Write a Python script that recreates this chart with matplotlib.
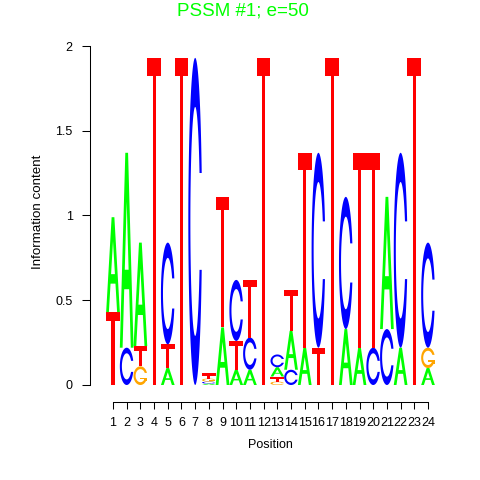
#!/usr/bin/env python3

### IMPORT
import numpy as np
import matplotlib
matplotlib.use('Agg')
import matplotlib.pyplot as plt
from matplotlib.path import Path
from matplotlib.patches import PathPatch

### DATA
positions = list(range(1, 25))
ht_A = [0.56, 1.15, 0.61, 0, 0.10, 0, 0, 0.008, 0.34, 0.09, 0.09, 0, 0.055, 0.23, 0.22, 0, 0, 0.33, 0.22, 0, 0.78, 0.22, 0, 0.10]
ht_C = [0, 0.22, 0, 0, 0.60, 0, 1.93, 0.012, 0, 0.36, 0.19, 0, 0.075, 0.09, 0, 1.15, 0, 0.78, 0, 0.22, 0.33, 1.15, 0, 0.62]
ht_G = [0, 0, 0.11, 0, 0, 0, 0, 0.018, 0, 0, 0, 0, 0.02, 0, 0, 0, 0, 0, 0, 0, 0, 0, 0, 0.12]
ht_T = [0.43, 0, 0.12, 1.93, 0.14, 1.93, 0, 0.03, 0.77, 0.17, 0.34, 1.93, 0.03, 0.24, 1.15, 0.22, 1.93, 0, 1.15, 1.15, 0, 0, 1.93, 0]
y_ticks = [0, 0.5, 1, 1.5, 2]
y_ticklabels = ['0', '0.5', '1', '1.5', '2']
title = 'PSSM #1; e=50'
xlabel = 'Position'
ylabel = 'Information content'

heights = {'A': ht_A, 'C': ht_C, 'G': ht_G, 'T': ht_T}
colours = {'A': '#00FF00', 'C': '#0000FF', 'G': '#FFA500', 'T': '#FF0000'}

plt.rcParams['font.family'] = ['Liberation Sans', 'DejaVu Sans']

### LETTER SHAPES (unit square)
def ring(cut = 0.148, ro = 0.5, ri = 0.35, n = 120):
	ao = np.arcsin(cut / ro)
	ai = np.arcsin(cut / ri)
	t1 = np.linspace(ao, 2 * np.pi - ao, n)
	t2 = np.linspace(2 * np.pi - ai, ai, n)
	x = np.concatenate([0.5 + ro * np.cos(t1), 0.5 + ri * np.cos(t2)])
	y = np.concatenate([0.5 + ro * np.sin(t1), 0.5 + ri * np.sin(t2)])
	return np.column_stack([x, y])

def shape(letter, h):
	if letter == 'A':
		outer = [(0, 0), (0.4, 1), (0.6, 1), (1, 0), (0.8, 0), (0.68, 0.3), (0.32, 0.3), (0.2, 0)]
		inner = [(0.36, 0.4), (0.64, 0.4), (0.5, 0.75)]
		return [[outer, inner]]
	if letter == 'C':
		return [[ring()]]
	if letter == 'G':
		bar = [(0.5, 0.3), (0.98, 0.3), (0.98, 0.4), (0.5, 0.4)]
		stub = [(0.78, 0.2), (0.98, 0.2), (0.98, 0.4), (0.78, 0.4)]
		return [[ring()], [bar], [stub]]
	# T: bar thickness grows slowly, capped
	bh = min(0.106, 0.018 + 0.075 * h) / h
	bh = min(bh, 0.45)
	s0, s1 = 0.39, 0.61
	t = [(0, 1), (1, 1), (1, 1 - bh), (s1, 1 - bh), (s1, 0), (s0, 0), (s0, 1 - bh), (0, 1 - bh)]
	return [[t]]

def draw_letter(ax, letter, xc, y0, h, w = 1.0):
	for part in shape(letter, h):
		verts = []
		codes = []
		for poly in part:
			p = np.array(poly, dtype = float)
			p[:, 0] = xc - w / 2 + p[:, 0] * w
			p[:, 1] = y0 + p[:, 1] * h
			verts += list(p) + [p[0]]
			codes += [Path.MOVETO] + [Path.LINETO] * (len(p) - 1) + [Path.CLOSEPOLY]
		ax.add_patch(PathPatch(Path(verts, codes), facecolor = colours[letter], edgecolor = 'none'))

### FIGURE
fig = plt.figure(figsize = (4.8, 4.8), dpi = 100)
ax = fig.add_axes([90 / 480, 1 - 402 / 480, 360 / 480, 362 / 480])
ax.set_xlim(-0.679, 25.606)
ax.set_ylim(-0.1003, 2.0354)

for i, pos in enumerate(positions):
	col = sorted([(heights[l][i], l) for l in 'ACGT' if heights[l][i] > 0])
	y0 = 0
	for h, l in col:
		draw_letter(ax, l, pos, y0, h)
		y0 += h

### AXES
for s in ['top', 'right']:
	ax.spines[s].set_visible(False)
ax.spines['left'].set_bounds(0, 2)
ax.spines['bottom'].set_bounds(1, 24)
for s in ['left', 'bottom']:
	ax.spines[s].set_linewidth(0.75)
ax.set_xticks(positions)
ax.set_xticklabels([str(p) for p in positions])
ax.set_yticks(y_ticks)
ax.set_yticklabels(y_ticklabels)
ax.tick_params(axis = 'x', length = 5, width = 0.75, labelsize = 9, pad = 5.5)
ax.tick_params(axis = 'y', length = 5.5, width = 0.75, labelsize = 9, pad = 7)

fig.text(243 / 480, 1 - 11 / 480, title, color = '#00FF00', fontsize = 13.5, ha = 'center', va = 'center')
fig.text(38 / 480, 1 - 212 / 480, ylabel, rotation = 90, fontsize = 9.6, ha = 'center', va = 'center')
fig.text(270 / 480, 1 - 445 / 480, xlabel, fontsize = 9, ha = 'center', va = 'center')

### SAVE
fig.savefig('out.png', dpi = 100)
